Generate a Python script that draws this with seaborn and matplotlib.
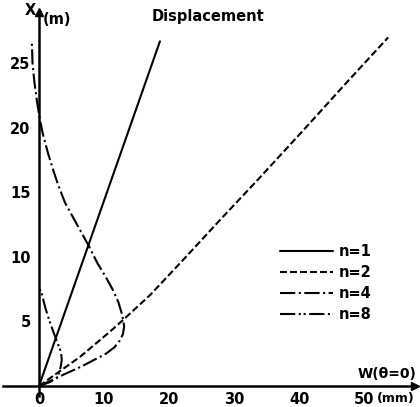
import matplotlib
matplotlib.use("Agg")
import matplotlib.pyplot as plt
import seaborn as sns
import pandas as pd

# ---- data (W in mm, X in m) ----
n1_X = [0.0, 26.7]
n1_W = [0.0, 18.6]

n2_X = [0.0, 2.25, 4.2, 5.1, 7.05, 10.0, 13.0, 16.0, 20.0, 23.5, 27.0]
n2_W = [0.0, 6.3, 10.9, 12.9, 17.1, 22.6, 28.1, 33.7, 41.0, 47.3, 53.7]

n4_X = [0.0, 0.5, 1.0, 1.5, 2.0, 2.5, 3.0, 3.5, 4.0, 4.6, 5.5, 6.5, 7.5, 8.5,
        9.5, 10.8, 12.0, 13.0, 14.2, 15.5, 16.7, 18.0, 19.5, 20.6, 22.0, 23.5,
        25.0, 26.7]
n4_W = [0.0, 2.2, 4.3, 6.5, 8.4, 10.3, 11.6, 12.4, 12.9, 13.1, 12.8, 12.2, 11.3,
        10.2, 9.0, 7.7, 6.4, 5.3, 4.0, 3.0, 2.2, 1.4, 0.6, 0.15, -0.3, -0.7,
        -1.0, -1.1]

n8_X = [0.0, 0.3, 0.7, 1.4, 2.0, 2.6, 3.4, 4.2, 4.9, 6.0, 7.2, 7.5]
n8_W = [0.0, 1.7, 2.9, 3.3, 3.5, 3.4, 2.8, 2.2, 1.7, 1.0, 0.4, 0.1]

labels = ["n=1", "n=2", "n=4", "n=8"]
x_ticks = [0, 10, 20, 30, 40, 50]
y_ticks = [5, 10, 15, 20, 25]
top_mark = [26.7]

sns.set_style("white")
plt.rcParams["font.family"] = ["DejaVu Sans"]
plt.rcParams["font.weight"] = "bold"
plt.rcParams["text.color"] = "black"
plt.rcParams["lines.scale_dashes"] = False

fig = plt.figure(figsize=(4.2, 4.07), dpi=100)
ax = fig.add_axes([0, 0, 1, 1])

styles = [
    "-",
    (0, (5, 2.2)),
    (0, (11, 2.5, 1.5, 2.5)),
    (0, (11, 2.5, 1.5, 2.0, 1.5, 2.5)),
]
series = [(n1_W, n1_X), (n2_W, n2_X), (n4_W, n4_X), (n8_W, n8_X)]
for (w, x), lab, ls in zip(series, labels, styles):
    df = pd.DataFrame({"W": w, "X": x})
    sns.lineplot(data=df, x="W", y="X", sort=False, estimator=None, ax=ax,
                 color="black", linewidth=1.5, linestyle=ls, label=lab)

ax.set_xlim(-6.0, 58.6)
ax.set_ylim(-1.63, 29.9)
ax.set_xlabel("")
ax.set_ylabel("")

for s in ["top", "right"]:
    ax.spines[s].set_visible(False)
ax.spines["left"].set_position(("data", 0))
ax.spines["bottom"].set_position(("data", 0))
ax.spines["left"].set_bounds(-0.8, 28.8)
ax.spines["bottom"].set_bounds(-5.5, 57.5)
for s in ["left", "bottom"]:
    ax.spines[s].set_linewidth(1.8)
    ax.spines[s].set_color("black")

# arrowheads
ax.plot([57.8], [0], marker=">", color="black", markersize=6, clip_on=False)
ax.plot([0], [29.0], marker="^", color="black", markersize=6, clip_on=False)

ax.set_xticks(x_ticks)
ax.set_xticklabels([str(t) for t in x_ticks])
ax.set_yticks(y_ticks)
ax.set_yticklabels([str(t) for t in y_ticks])
ax.set_yticks(top_mark, minor=True)
ax.tick_params(axis="x", direction="inout", length=9, width=1.3, labelsize=10.5,
               pad=0, colors="black")
ax.tick_params(axis="y", direction="out", length=5, width=1.3, labelsize=10.5,
               pad=1, colors="black")
ax.tick_params(axis="y", which="minor", direction="inout", length=11, width=1.3)

ax.text(0.5, 28.4, "(m)", fontsize=10.5, ha="left", va="center")
ax.text(-0.4, 29.1, "X", fontsize=10.5, ha="right", va="center")
ax.text(58.0, 0.35, "W(θ=0)", fontsize=10, ha="right", va="bottom")
ax.text(51.9, -0.45, "(mm)", fontsize=9, ha="left", va="top")
ax.text(26.0, 28.6, "Displacement", fontsize=10.5, ha="center", va="center")

ax.legend(loc="center left", bbox_to_anchor=(0.667, 0.305), frameon=False,
          fontsize=10.5, handlelength=3.6, handletextpad=0.4, labelspacing=0.4,
          borderaxespad=0, borderpad=0)

fig.savefig("out.png", dpi=100)
